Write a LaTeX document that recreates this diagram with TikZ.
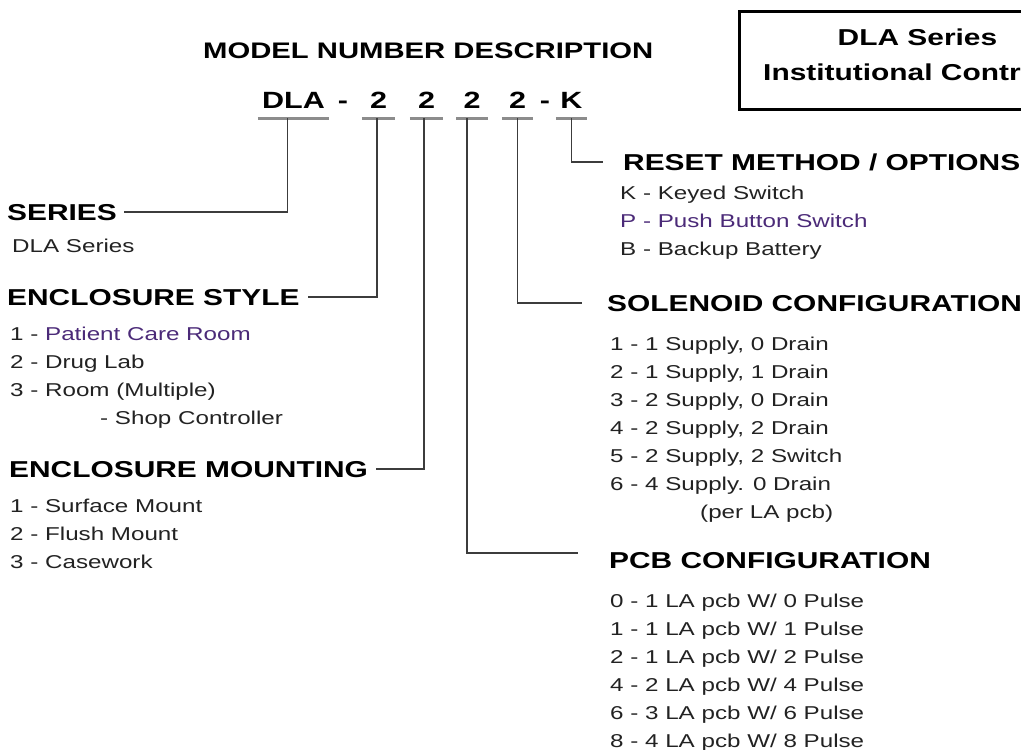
\documentclass[tikz,border=0pt]{standalone}
\usepackage{fontspec}
\setmainfont{Liberation Sans}[FakeStretch=1.3]
\usetikzlibrary{positioning}

\definecolor{linegray}{HTML}{3C3C3C}
\definecolor{ulgray}{HTML}{8C8C8C}
\definecolor{bodytext}{HTML}{222222}
\definecolor{purpletext}{HTML}{4B2A78}

\tikzset{
  head/.style={anchor=base west, inner sep=0pt, font=\fontsize{23}{28}\selectfont\bfseries},
  item/.style={anchor=base west, inner sep=0pt, text=bodytext, font=\fontsize{18.6}{28}\selectfont},
  digit/.style={inner sep=0pt, minimum height=36pt, text height=17pt, text depth=0pt,
    font=\fontsize{23.5}{28}\selectfont\bfseries},
  uline/.style={ulgray, line width=3pt},
  conn/.style={linegray, line width=1.6pt},
}

\begin{document}
\begin{tikzpicture}[x=1pt,y=-1pt]
\useasboundingbox (0,0) rectangle (1021,750);
\clip (0,0) rectangle (1021,750);

% title and series box
\node[anchor=base west, inner sep=0pt, font=\fontsize{22.5}{28}\selectfont\bfseries] (title) at (203,58.5) {MODEL NUMBER DESCRIPTION};
\node[draw, line width=2.5pt, anchor=north west, minimum width=312pt, minimum height=98pt] (box) at (738,10) {};
\node[anchor=base, inner sep=0pt, font=\fontsize{23}{28}\selectfont\bfseries] (boxtop) at (917.5,45) {DLA Series};
\node[anchor=base west, inner sep=0pt, font=\fontsize{23}{28}\selectfont\bfseries] (boxbot) at (763,80) {Institutional Controls};

% model number
\node[digit, minimum width=71pt] (dSeries) at (293.5,100) {DLA};
\node[digit] (dashA) at (343,100) {-};
\node[digit, minimum width=33pt] (dStyle) at (378.5,100) {2};
\node[digit, minimum width=33pt] (dMount) at (426.5,100) {2};
\node[digit, minimum width=31pt] (dPcb) at (472,100) {2};
\node[digit, minimum width=31pt] (dSol) at (517.5,100) {2};
\node[digit] (dashB) at (545,100) {-};
\node[digit, minimum width=31pt] (dReset) at (571.5,100) {K};
\foreach \n in {dSeries,dStyle,dMount,dPcb,dSol,dReset}
  \draw[uline] (\n.south west) -- (\n.south east);

% headings
\node[head] (series) at (7,220) {SERIES};
\node[head] (style) at (7,305) {ENCLOSURE STYLE};
\node[head] (mount) at (9,477) {ENCLOSURE MOUNTING};
\node[head] (reset) at (623,170) {RESET METHOD / OPTIONS};
\node[head] (sol) at (607,311) {SOLENOID CONFIGURATION};
\node[head] (pcb) at (609,568) {PCB CONFIGURATION};

% option lists
\node[item] (ser1) at (12,252) {DLA Series};
\foreach \t [count=\i] in {{1 - \textcolor{purpletext}{Patient Care Room}}, {2 - Drug Lab}, {3 - Room (Multiple)}}
  \node[item] (sty\i) at (10,312+28*\i) {\t};
\node[item] (sty4) at (100,424) {- Shop Controller};
\foreach \t [count=\i] in {Surface Mount, Flush Mount, Casework}
  \node[item] (mnt\i) at (10,484+28*\i) {\i{} - \t};
\foreach \t [count=\i] in {{K - Keyed Switch}, {\textcolor{purpletext}{P - Push Button Switch}}, {B - Backup Battery}}
  \node[item] (rst\i) at (620,171+28*\i) {\t};
\foreach \t [count=\i] in {{1 Supply, 0 Drain}, {1 Supply, 1 Drain}, {2 Supply, 0 Drain}, {2 Supply, 2 Drain}, {2 Supply, 2 Switch}, {4 Supply. 0 Drain}}
  \node[item] (sol\i) at (610,322+28*\i) {\i{} - \t};
\node[item] (sol7) at (700,518) {(per LA pcb)};
\foreach \t [count=\i] in {{0 - 1 LA pcb W/ 0 Pulse}, {1 - 1 LA pcb W/ 1 Pulse}, {2 - 1 LA pcb W/ 2 Pulse}, {4 - 2 LA pcb W/ 4 Pulse}, {6 - 3 LA pcb W/ 6 Pulse}, {8 - 4 LA pcb W/ 8 Pulse}}
  \node[item] (pcb\i) at (610,579+28*\i) {\t};

% connectors
\draw[conn] ([xshift=-6pt]dSeries.south) |- ([xshift=7pt]series.east);
\draw[conn] ([xshift=-1.5pt]dStyle.south) |- ([xshift=8pt]style.east);
\draw[conn] ([xshift=-2.5pt]dMount.south) |- ([xshift=8pt]mount.east);
\draw[conn] ([xshift=-5pt]dPcb.south) |- ([xshift=-31pt,yshift=7pt]pcb.west);
\draw[conn] (dSol.south) |- ([xshift=-25pt]sol.west);
\draw[conn] (dReset.south) |- ([xshift=-20pt]reset.west);
\end{tikzpicture}
\end{document}
